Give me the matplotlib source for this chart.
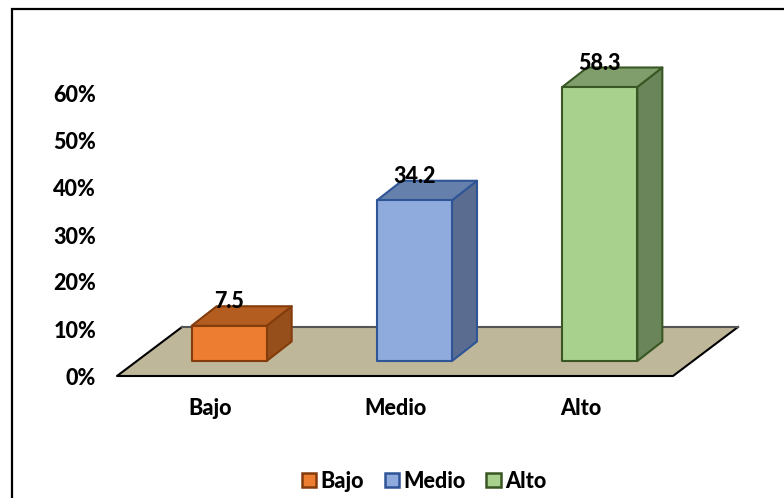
import matplotlib
matplotlib.use('Agg')
import matplotlib.pyplot as plt
from matplotlib.patches import Polygon, Rectangle
from matplotlib.lines import Line2D

plt.rcParams['font.family'] = ['Lato', 'DejaVu Sans']
plt.rcParams['font.weight'] = 'black'

categorias = ['Bajo', 'Medio', 'Alto']
valores = [7.5, 34.2, 58.3]
etiquetas = ['7.5', '34.2', '58.3']
ticks = [0, 10, 20, 30, 40, 50, 60]

caras = ['#ED7D31', '#8FAADC', '#A9D18E']
techos = ['#B35D21', '#6580AB', '#7F9E6B']
lados = ['#964F1B', '#5A6C8F', '#6A8559']
bordes = ['#843C0C', '#2F5597', '#385723']

W, H = 784, 498
fs = 15.5
fig = plt.figure(figsize=(W / 100, H / 100), dpi=100)
ax = fig.add_axes([117 / W, (H - 376) / H, 556 / W, 282 / H])
ax.set_xlim(-0.5, 2.5)
ax.set_ylim(0, 60)

# size of one pixel in data units, the 3d depth is given in pixels
px = 3 / 556
py = 60 / 282

# floor
suelo = [(-0.5, 0), (2.5, 0), (2.5 + 65 * px, 49 * py), (-0.5 + 65 * px, 49 * py)]
ax.add_patch(Polygon(suelo, closed=True, fc='#BFB79A', ec='none', clip_on=False, zorder=1))
ax.plot([suelo[3][0], suelo[0][0], suelo[1][0], suelo[2][0]],
        [suelo[3][1], suelo[0][1], suelo[1][1], suelo[2][1]],
        color='black', lw=1.5, clip_on=False, zorder=2)
ax.plot([suelo[3][0], suelo[2][0]], [suelo[3][1], suelo[2][1]],
        color='#555555', lw=1.5, clip_on=False, zorder=2)

# bars, front face plus top and side
ancho = 75 * px
dx, dy = 25 * px, 19.5 * py
x_off, y_off = 19.5 * px, 15 * py
for i, v in enumerate(valores):
    x0 = i + x_off - ancho / 2
    x1 = x0 + ancho
    y0 = y_off
    y1 = y_off + v
    estilo = dict(closed=True, ec=bordes[i], lw=1.5, joinstyle='round', clip_on=False, zorder=3)
    ax.add_patch(Polygon([(x1, y0), (x1 + dx, y0 + dy), (x1 + dx, y1 + dy), (x1, y1)], fc=lados[i], **estilo))
    ax.add_patch(Polygon([(x0, y1), (x1, y1), (x1 + dx, y1 + dy), (x0 + dx, y1 + dy)], fc=techos[i], **estilo))
    ax.add_patch(Polygon([(x0, y0), (x1, y0), (x1, y1), (x0, y1)], fc=caras[i], **estilo))
    ax.text(i + x_off, y1 + 5.1, etiquetas[i], ha='center', va='center',
            fontsize=fs, color='black', zorder=5, clip_on=False)

for s in ax.spines.values():
    s.set_visible(False)
ax.patch.set_visible(False)
ax.set_xticks(range(3))
ax.set_xticklabels(categorias, fontsize=fs)
ax.set_yticks(ticks)
ax.set_yticklabels([f'{t}%' for t in ticks], fontsize=fs)
ax.tick_params(length=0)
ax.tick_params(axis='x', pad=16)
ax.tick_params(axis='y', pad=15)

# legend
handles = [Rectangle((0, 0), 1, 1, fc=caras[i], ec=bordes[i], lw=1.8) for i in range(3)]
fig.legend(handles, categorias, loc='center', bbox_to_anchor=(424 / W, (H - 481) / H),
           ncol=3, frameon=False, fontsize=fs, handlelength=0.68, handleheight=0.68,
           handletextpad=0.2, columnspacing=0.95)

# frame around the chart, only the top and left edges are in view
fig.add_artist(Line2D([11.5 / W, 11.5 / W, 1], [0, (H - 9) / H, (H - 9) / H], transform=fig.transFigure,
                      color='black', lw=1.6, solid_joinstyle='miter'))

fig.savefig('out.png', dpi=100)
